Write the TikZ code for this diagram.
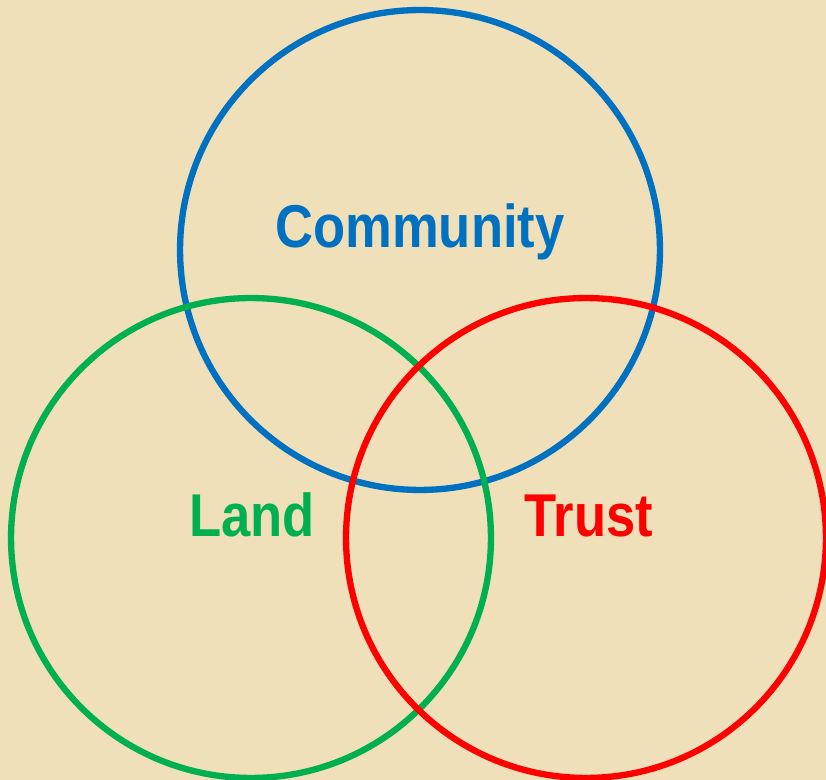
\documentclass[tikz,border=0pt]{standalone}
\usepackage{fontspec}
\setmainfont{Liberation Sans}
\newfontfamily\labelfont[FakeStretch=0.87]{Liberation Sans Bold}
\usepackage{tikz}
\definecolor{parchment}{RGB}{239,224,186}
\definecolor{ringblue}{RGB}{0,112,192}
\definecolor{ringgreen}{RGB}{0,176,80}
\definecolor{ringred}{RGB}{255,0,0}
\tikzset{
    x=0.02cm, y=-0.02cm, % one unit is one pixel of the reference
    }

\begin{document}
\begin{tikzpicture}[
ringnode/.style={circle, draw=#1, line width=3.6pt, minimum size=9.6cm, inner sep=0pt},
namenode/.style={text=#1, font=\labelfont\fontsize{34.4}{36}\selectfont, anchor=base, inner sep=0pt},
]
\fill[parchment] (0,0) rectangle (826,780);
\useasboundingbox (0,0) rectangle (826,780);

\node[ringnode=ringblue] (community) at (420,250) {};
\node[ringnode=ringgreen] (land) at (251,538) {};
\node[ringnode=ringred] (trust) at (586,538) {};

\node[namenode=ringblue] (communitylabel) at (420,248) {Community};
\node[namenode=ringgreen] (landlabel) at (252,537) {Land};
\node[namenode=ringred] (trustlabel) at (589,537) {Trust};
\end{tikzpicture}
\end{document}
